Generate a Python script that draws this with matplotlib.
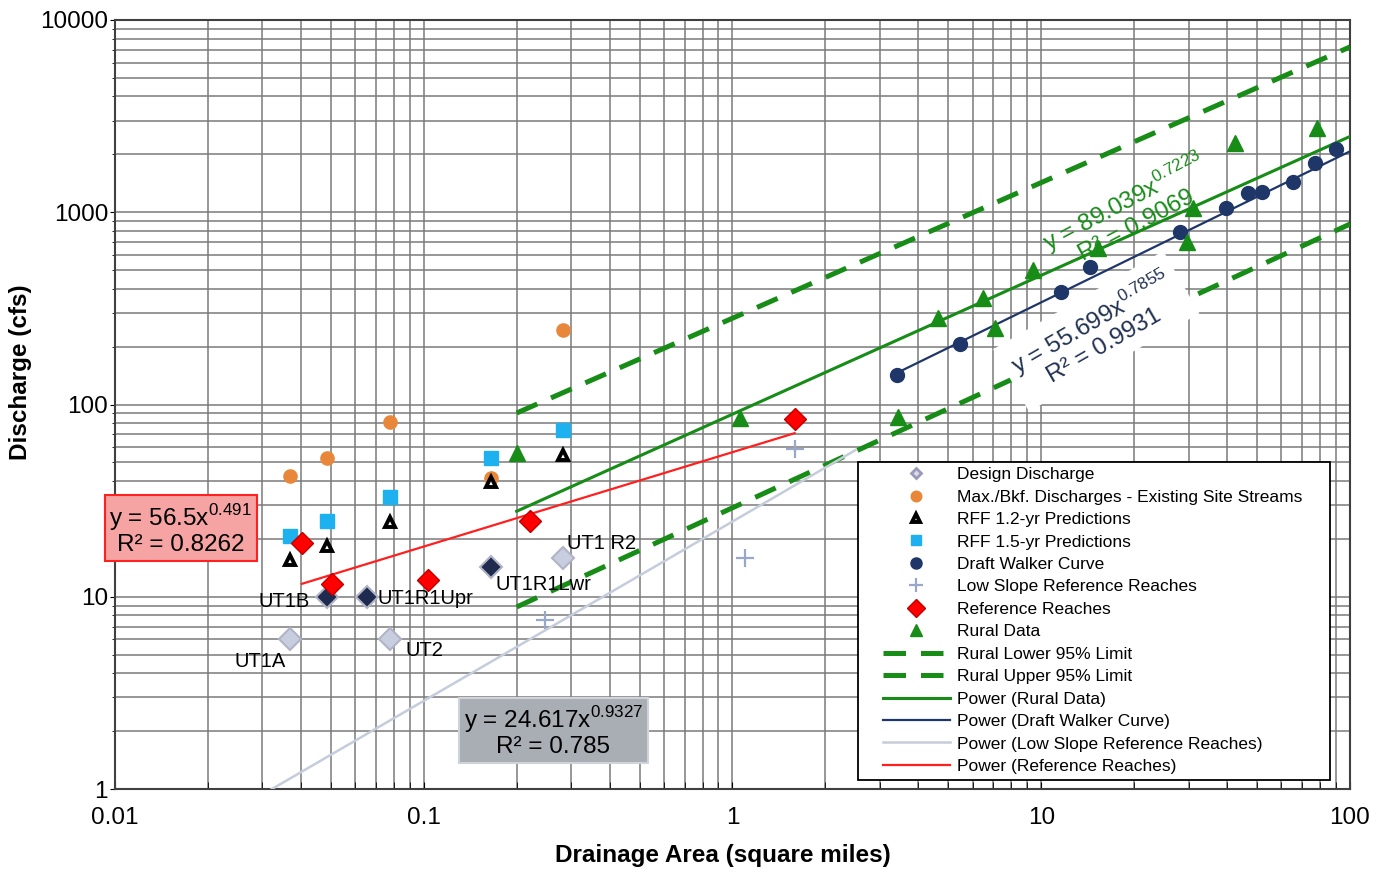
import numpy as np
import matplotlib
matplotlib.use("Agg")
import matplotlib.pyplot as plt
from matplotlib.lines import Line2D
from matplotlib.patches import Rectangle

plt.rcParams['font.family'] = ['Liberation Sans', 'DejaVu Sans']

# Design discharge (site reaches)
design_x = [0.0369, 0.0778, 0.283, 0.0486, 0.0656, 0.165]
design_y = [6.0, 6.0, 16.0, 10.0, 10.0, 14.2]
design_names = ['UT1A', 'UT2', 'UT1 R2', 'UT1B', 'UT1R1Upr', 'UT1R1Lwr']

# Max./Bkf. discharges - existing site streams
bkf_x = [0.0369, 0.0486, 0.0778, 0.165, 0.283]
bkf_y = [42.5, 53.0, 81.0, 41.5, 244.0]

# RFF predictions
rff12_x = [0.0369, 0.0486, 0.0778, 0.165, 0.283]
rff12_y = [15.5, 18.4, 24.5, 39.5, 54.5]
rff15_x = [0.0369, 0.0486, 0.0778, 0.165, 0.283]
rff15_y = [20.7, 24.8, 33.0, 53.0, 73.5]

# Draft Walker curve
walker_x = [3.41, 5.45, 11.6, 14.4, 28.1, 39.6, 46.7, 51.9, 65.3, 77.1, 90.1]
walker_y = [142, 206, 385, 519, 789, 1052, 1259, 1280, 1437, 1805, 2133]

# Low slope reference reaches
lowslope_x = [0.247, 1.10, 1.59]
lowslope_y = [7.6, 15.9, 58.7]

# Reference reaches
ref_x = [0.0403, 0.0504, 0.103, 0.221, 1.59]
ref_y = [19.0, 11.6, 12.2, 24.8, 84.0]

# Rural data
rural_x = [0.200, 1.06, 3.44, 4.63, 6.49, 7.08, 9.40, 15.3, 29.6, 31.0, 42.4, 78.2]
rural_y = [56, 85, 86, 282, 357, 249, 501, 651, 700, 1052, 2291, 2742]

# Rural 95% limits (end points)
limit_x = [0.2, 100]
lower_y = [8.85, 868]
upper_y = [90.3, 7240]

# Power trendlines: (a, b, x range)
rural_fit = (89.039, 0.7223, [0.2, 100])
walker_fit = (55.699, 0.7855, [3.41, 100])
lowslope_fit = (24.617, 0.9327, [0.03, 2.5])
ref_fit = (56.5, 0.491, [0.0403, 1.59])

GREEN = '#178c17'
NAVY = '#1f3768'
LIGHT = '#c5ccdc'
RED = '#ff1f1f'

fig, ax = plt.subplots(figsize=(13.87, 8.73), dpi=100)
fig.subplots_adjust(left=0.0829, right=0.9733, bottom=0.0962, top=0.9771)

ax.set_xscale('log')
ax.set_yscale('log')
ax.set_xlim(0.01, 100)
ax.set_ylim(1, 10000)

ax.grid(True, which='both', color='#7a7a7a', linewidth=1.1)
ax.set_axisbelow(True)


def power_line(fit, **kw):
    a, b, xr = fit
    xs = np.array(xr, dtype=float)
    return ax.plot(xs, a * xs ** b, **kw)[0]


# trendlines and limits
h_lower, = ax.plot(limit_x, lower_y, color=GREEN, lw=3.6, dashes=(4.5, 3), zorder=3)
h_upper, = ax.plot(limit_x, upper_y, color=GREEN, lw=3.6, dashes=(4.5, 3), zorder=3)
h_prural = power_line(rural_fit, color=GREEN, lw=2.2, zorder=3)
h_pwalker = power_line(walker_fit, color=NAVY, lw=1.6, zorder=3)
h_plow = power_line(lowslope_fit, color=LIGHT, lw=1.8, zorder=3)
h_pref = power_line(ref_fit, color=RED, lw=1.6, zorder=3)

# markers
design_face = ['#c9cde0', '#c9cde0', '#c9cde0', '#1e2a4e', '#1e2a4e', '#1e2a4e']
for x, y, fc in zip(design_x, design_y, design_face):
    ax.plot(x, y, marker='D', ms=11, mfc=fc, mec='#b0b4c4', mew=1.5, ls='none', zorder=5)
h_design = Line2D([], [], marker='D', ms=7, mfc='#d8dbe8', mec='#9a9ab8', mew=2, ls='none')

h_bkf, = ax.plot(bkf_x, bkf_y, 'o', ms=9.5, color='#e8873a', zorder=5)
h_rff12, = ax.plot(rff12_x, rff12_y, '^', ms=7, mfc='white', mec='black', mew=2.8, zorder=5)
h_rff15, = ax.plot(rff15_x, rff15_y, 's', ms=9.5, color='#1db1ef', zorder=5)
h_walker, = ax.plot(walker_x, walker_y, 'o', ms=10, color=NAVY, zorder=5)
h_low, = ax.plot(lowslope_x, lowslope_y, '+', ms=13, mew=1.6, color='#98a8c8', zorder=5)
h_ref, = ax.plot(ref_x, ref_y, 'D', ms=11, mfc='#ff0000', mec='#c00000', mew=1, zorder=5)
h_rural, = ax.plot(rural_x, rural_y, '^', ms=11, color=GREEN, zorder=5)

# site labels
label_offsets = {
    'UT1A': (-30, -22, 'center'),
    'UT2': (15, -11, 'left'),
    'UT1 R2': (4, 14, 'left'),
    'UT1B': (-17, -5, 'right'),
    'UT1R1Upr': (10, -2, 'left'),
    'UT1R1Lwr': (5, -17, 'left'),
}
for name, x, y in zip(design_names, design_x, design_y):
    dx, dy, ha = label_offsets[name]
    ax.annotate(name, (x, y), xytext=(dx, dy), textcoords='offset pixels',
                ha=ha, va='center', fontsize=14.5, zorder=6)

# equation boxes
ax.text(0.0534, 0.338, 'y = 56.5x$^{\\mathregular{0.491}}$\nR² = 0.8262',
        transform=ax.transAxes, ha='center', va='center', fontsize=17.5,
        multialignment='center', clip_on=False, zorder=7, linespacing=1.05,
        bbox=dict(boxstyle='square,pad=0.2', facecolor='#f5a3a3', edgecolor='#ff2020', lw=1.5))
ax.text(0.355, 0.075, 'y = 24.617x$^{\\mathregular{0.9327}}$\nR² = 0.785',
        transform=ax.transAxes, ha='center', va='center', fontsize=17.5,
        multialignment='center', zorder=7, linespacing=1.05,
        bbox=dict(boxstyle='square,pad=0.2', facecolor='#a9aeb5', edgecolor='#d0d4da', lw=1.5))
ax.text(0.795, 0.594, 'y = 55.699x$^{\\mathregular{0.7855}}$\nR² = 0.9931',
        transform=ax.transAxes, ha='center', va='center', fontsize=17.5, color='#1f3050',
        multialignment='center', rotation=30, zorder=7, linespacing=1.0,
        bbox=dict(boxstyle='square,pad=0.35', facecolor='white', edgecolor='none'))
ax.text(0.821, 0.75, 'y = 89.039x$^{\\mathregular{0.7223}}$\nR² = 0.9069',
        transform=ax.transAxes, ha='center', va='center', fontsize=17.5, color=GREEN,
        multialignment='center', rotation=28, zorder=7, linespacing=1.0)

# legend: frame drawn by hand so its padding matches
leg_box = Rectangle((0.6016, 0.0117), 0.3822, 0.4135, transform=ax.transAxes,
                    facecolor='white', edgecolor='black', lw=1.3, zorder=9)
ax.add_patch(leg_box)
handles = [h_design, h_bkf, h_rff12, h_rff15, h_walker, h_low, h_ref, h_rural,
           h_lower, h_upper, h_prural, h_pwalker, h_plow, h_pref]
labels = ['Design Discharge', 'Max./Bkf. Discharges - Existing Site Streams',
          'RFF 1.2-yr Predictions', 'RFF 1.5-yr Predictions', 'Draft Walker Curve',
          'Low Slope Reference Reaches', 'Reference Reaches', 'Rural Data',
          'Rural Lower 95% Limit', 'Rural Upper 95% Limit', 'Power (Rural Data)',
          'Power (Draft Walker Curve)', 'Power (Low Slope Reference Reaches)',
          'Power (Reference Reaches)']
leg = ax.legend(handles, labels, loc='upper left',
                bbox_to_anchor=(0.6016 + 25 / 1235, 0.4252 - 5 / 769),
                borderaxespad=0, borderpad=0, fontsize=12.5, frameon=False,
                handlelength=3.85, handletextpad=0.4, labelspacing=0.42,
                markerscale=0.8)
leg.set_zorder(10)

ax.set_xticks([0.01, 0.1, 1, 10, 100])
ax.set_xticklabels(['0.01', '0.1', '1', '10', '100'])
ax.set_yticks([1, 10, 100, 1000, 10000])
ax.set_yticklabels(['1', '10', '100', '1000', '10000'])
ax.tick_params(axis='both', which='major', labelsize=17.5)
ax.tick_params(axis='x', which='both', direction='in', length=5, pad=13)
ax.tick_params(axis='y', which='major', direction='out', length=3.5, pad=1.5)
ax.tick_params(axis='y', which='minor', direction='out', length=2.5)
for s in ax.spines.values():
    s.set_color('#404040')
    s.set_linewidth(1.5)

lab_font = dict(family=['Liberation Sans Narrow', 'Liberation Sans'], fontweight='bold', fontsize=17.5)
ax.set_xlabel('Drainage Area (square miles)', **lab_font)
ax.set_ylabel('Discharge (cfs)', **lab_font)
ax.xaxis.set_label_coords(0.492, -0.0715)
ax.yaxis.set_label_coords(-0.067, 0.542)

fig.savefig('out.png', dpi=100)
